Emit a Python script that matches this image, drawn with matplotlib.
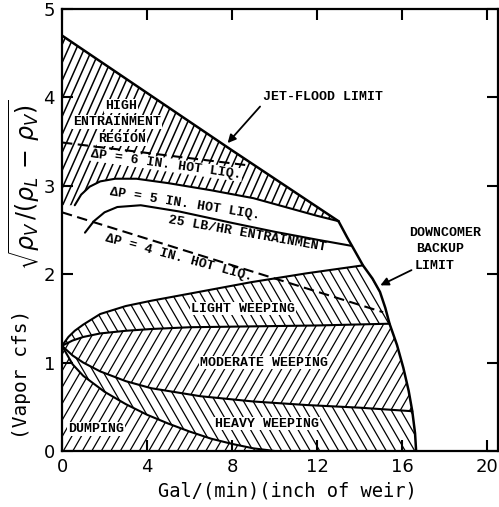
"""Sieve tray stable-operation chart (jet flood / downcomer backup / weeping)."""

import matplotlib
matplotlib.use("Agg")
import matplotlib.pyplot as plt
import numpy as np
from matplotlib.collections import LineCollection
from matplotlib.patches import Polygon

# x = gal/(min)(inch of weir), y = vapor C-factor
JET_X = [0.0, 4.0, 8.0, 13.0]
JET_Y = [4.70, 4.05, 3.40, 2.60]

# downcomer backup limit, top to bottom
DC_X = [13.0, 13.4, 13.8, 14.15, 14.6, 14.95, 15.2, 15.4, 15.75, 16.05, 16.3, 16.47, 16.6, 16.65]
DC_Y = [2.60, 2.42, 2.25, 2.10, 1.95, 1.80, 1.62, 1.44, 1.20, 0.94, 0.68, 0.45, 0.20, 0.0]

DP5_X = [0.6, 0.9, 1.3, 1.8, 2.5, 3.5, 5.0, 7.0, 9.0, 10.5, 12.0, 13.0]
DP5_Y = [2.78, 2.90, 2.99, 3.05, 3.08, 3.08, 3.03, 2.95, 2.86, 2.76, 2.66, 2.60]

DP6_X = [0.0, 8.8]
DP6_Y = [3.49, 3.23]

DP4_X = [0.0, 15.1]
DP4_Y = [2.70, 1.57]

ENT_X = [1.08, 1.5, 2.0, 2.6, 3.7, 5.5, 8.0, 10.0, 12.0, 13.63]
ENT_Y = [2.47, 2.60, 2.70, 2.76, 2.78, 2.71, 2.58, 2.48, 2.39, 2.32]

LIGHT_X = [0.0, 0.3, 0.6, 1.0, 1.8, 3.0, 4.2, 6.0, 8.9, 11.5, 14.15]
LIGHT_Y = [1.19, 1.29, 1.36, 1.43, 1.55, 1.64, 1.70, 1.78, 1.91, 2.01, 2.10]

MOD_X = [0.0, 0.5, 1.0, 1.8, 3.0, 4.2, 6.0, 9.0, 12.0, 15.4]
MOD_Y = [1.19, 1.25, 1.29, 1.33, 1.36, 1.38, 1.40, 1.41, 1.42, 1.44]

HEAVY_X = [0.0, 0.5, 1.0, 1.8, 3.0, 4.2, 6.5, 9.0, 11.5, 14.0, 16.47]
HEAVY_Y = [1.19, 1.08, 1.00, 0.90, 0.79, 0.71, 0.62, 0.56, 0.52, 0.49, 0.45]

DUMP_X = [0.0, 0.5, 1.0, 2.0, 3.0, 4.0, 5.0, 6.0, 7.0, 8.0, 9.0, 10.0]
DUMP_Y = [1.19, 0.98, 0.85, 0.67, 0.53, 0.41, 0.31, 0.22, 0.14, 0.08, 0.03, 0.0]

X_TICKS = [0, 4, 8, 12, 16, 20]
Y_TICKS = [0, 1, 2, 3, 4, 5]

LABEL_FONT = dict(family="Liberation Mono", fontweight="bold", fontsize=9.5)
WHITE = dict(facecolor="white", edgecolor="none", pad=0.6)


def dc_between(y_hi, y_lo):
    """Downcomer points with y_lo <= y <= y_hi, top to bottom."""
    return [(x, y) for x, y in zip(DC_X, DC_Y) if y_lo <= y <= y_hi]


def hatch(ax, verts, angle, step, lw=0.9):
    poly = Polygon(np.asarray(verts), closed=True, fill=False, edgecolor="none")
    ax.add_patch(poly)
    bb = ax.get_window_extent()
    run = bb.height / np.tan(np.radians(angle))
    starts = np.arange(bb.x0 - abs(run) - step, bb.x1 + abs(run) + step, step)
    inv = ax.transData.inverted()
    segs = [inv.transform(np.array([(s, bb.y0), (s + run, bb.y1)])) for s in starts]
    lc = LineCollection(segs, colors="black", linewidths=lw)
    lc.set_clip_path(poly)
    ax.add_collection(lc, autolim=False)


fig = plt.figure(figsize=(4.99, 5.07), dpi=100)
ax = fig.add_axes([62 / 499, 1 - 451 / 507, 436 / 499, 442 / 507])
ax.set_xlim(0, 20.5)
ax.set_ylim(0, 5)

# hatched regions
pts = lambda xs, ys: list(zip(xs, ys))
dump_poly = pts(DUMP_X, DUMP_Y) + [(0.0, 0.0)]
heavy_poly = pts(HEAVY_X, HEAVY_Y) + dc_between(0.44, 0.0) + pts(DUMP_X, DUMP_Y)[::-1]
mod_poly = pts(MOD_X, MOD_Y) + dc_between(1.43, 0.46) + pts(HEAVY_X, HEAVY_Y)[::-1]
light_poly = pts(LIGHT_X, LIGHT_Y) + dc_between(2.09, 1.45) + pts(MOD_X, MOD_Y)[::-1]
ent_poly = pts(JET_X, JET_Y) + pts(DP5_X, DP5_Y)[::-1] + [(0.0, DP5_Y[0])]

hatch(ax, dump_poly, 60, 9.5)
hatch(ax, heavy_poly, 120, 9.5)
hatch(ax, mod_poly, 60, 9.5)
hatch(ax, light_poly, 120, 9.5)
hatch(ax, ent_poly, 66, 8, lw=1.1)

# boundary curves
for xs, ys, lw in [(JET_X, JET_Y, 1.8), (DC_X, DC_Y, 1.8), (DP5_X, DP5_Y, 1.5),
                   (ENT_X, ENT_Y, 1.5), (LIGHT_X, LIGHT_Y, 1.5), (MOD_X, MOD_Y, 1.5),
                   (HEAVY_X, HEAVY_Y, 1.5), (DUMP_X, DUMP_Y, 1.5)]:
    ax.plot(xs, ys, color="black", lw=lw, solid_capstyle="round", zorder=3)
for xs, ys in [(DP6_X, DP6_Y), (DP4_X, DP4_Y)]:
    ax.plot(xs, ys, color="black", lw=1.5, linestyle=(0, (5, 2.6)), zorder=4)

# region labels
ax.text(2.78, 3.90, "HIGH", ha="center", va="center", bbox=WHITE, zorder=5, **LABEL_FONT)
ax.text(2.58, 3.72, "ENTRAINMENT", ha="center", va="center", bbox=WHITE, zorder=5, **LABEL_FONT)
ax.text(2.82, 3.53, "REGION", ha="center", va="center", bbox=WHITE, zorder=5, **LABEL_FONT)
ax.text(4.9, 3.24, "ΔP = 6 IN. HOT LIQ.", ha="center", va="center", rotation=-8,
        bbox=WHITE, zorder=3.5, **LABEL_FONT)
ax.text(5.8, 2.79, "ΔP = 5 IN. HOT LIQ.", ha="center", va="center", rotation=-9,
        zorder=5, **LABEL_FONT)
ax.text(8.7, 2.45, "25 LB/HR ENTRAINMENT", ha="center", va="center", rotation=-10,
        zorder=5, **LABEL_FONT)
ax.text(5.5, 2.19, "ΔP = 4 IN. HOT LIQ.", ha="center", va="center", rotation=-15,
        zorder=5, **LABEL_FONT)
ax.text(8.5, 1.61, "LIGHT WEEPING", ha="center", va="center", bbox=WHITE, zorder=5, **LABEL_FONT)
ax.text(9.5, 1.00, "MODERATE WEEPING", ha="center", va="center", bbox=WHITE, zorder=5, **LABEL_FONT)
ax.text(9.65, 0.31, "HEAVY WEEPING", ha="center", va="center", bbox=WHITE, zorder=5, **LABEL_FONT)
ax.text(1.6, 0.25, "DUMPING", ha="center", va="center", bbox=WHITE, zorder=5, **LABEL_FONT)

ax.text(9.45, 4.0, "JET-FLOOD LIMIT", ha="left", va="center", **LABEL_FONT)
ax.annotate("", xy=(7.7, 3.46), xytext=(9.4, 3.92),
            arrowprops=dict(arrowstyle="-|>", color="black", lw=1.3, mutation_scale=12))
ax.text(18.0, 2.47, "DOWNCOMER", ha="center", va="center", **LABEL_FONT)
ax.text(17.8, 2.28, "BACKUP", ha="center", va="center", **LABEL_FONT)
ax.text(16.6, 2.09, "LIMIT", ha="left", va="center", **LABEL_FONT)
ax.annotate("", xy=(14.85, 1.86), xytext=(16.55, 2.06),
            arrowprops=dict(arrowstyle="-|>", color="black", lw=1.3, mutation_scale=12))

# axes styling
ax.set_xticks(X_TICKS)
ax.set_yticks(Y_TICKS)
ax.tick_params(direction="in", length=8, width=1.5, top=True, right=True,
               labelsize=13, pad=5)
for sp in ax.spines.values():
    sp.set_linewidth(1.6)

ax.set_xlabel("Gal/(min)(inch of weir)", family="DejaVu Sans Mono", fontsize=13.5)
ax.xaxis.set_label_coords(0.518, -0.07)

# y label: plain part and a larger square-root group, as on the original
fig.text(22 / 499, 1 - 374 / 507, "(Vapor cfs)", rotation=90, ha="center", va="center",
         family="DejaVu Sans Mono", fontsize=14)
fig.text(24 / 499, 1 - 185 / 507, r"$\sqrt{\rho_V\,/(\rho_L\,-\,\rho_V)}$", rotation=90,
         ha="center", va="center", fontsize=17)

fig.savefig("out.png", dpi=100)
